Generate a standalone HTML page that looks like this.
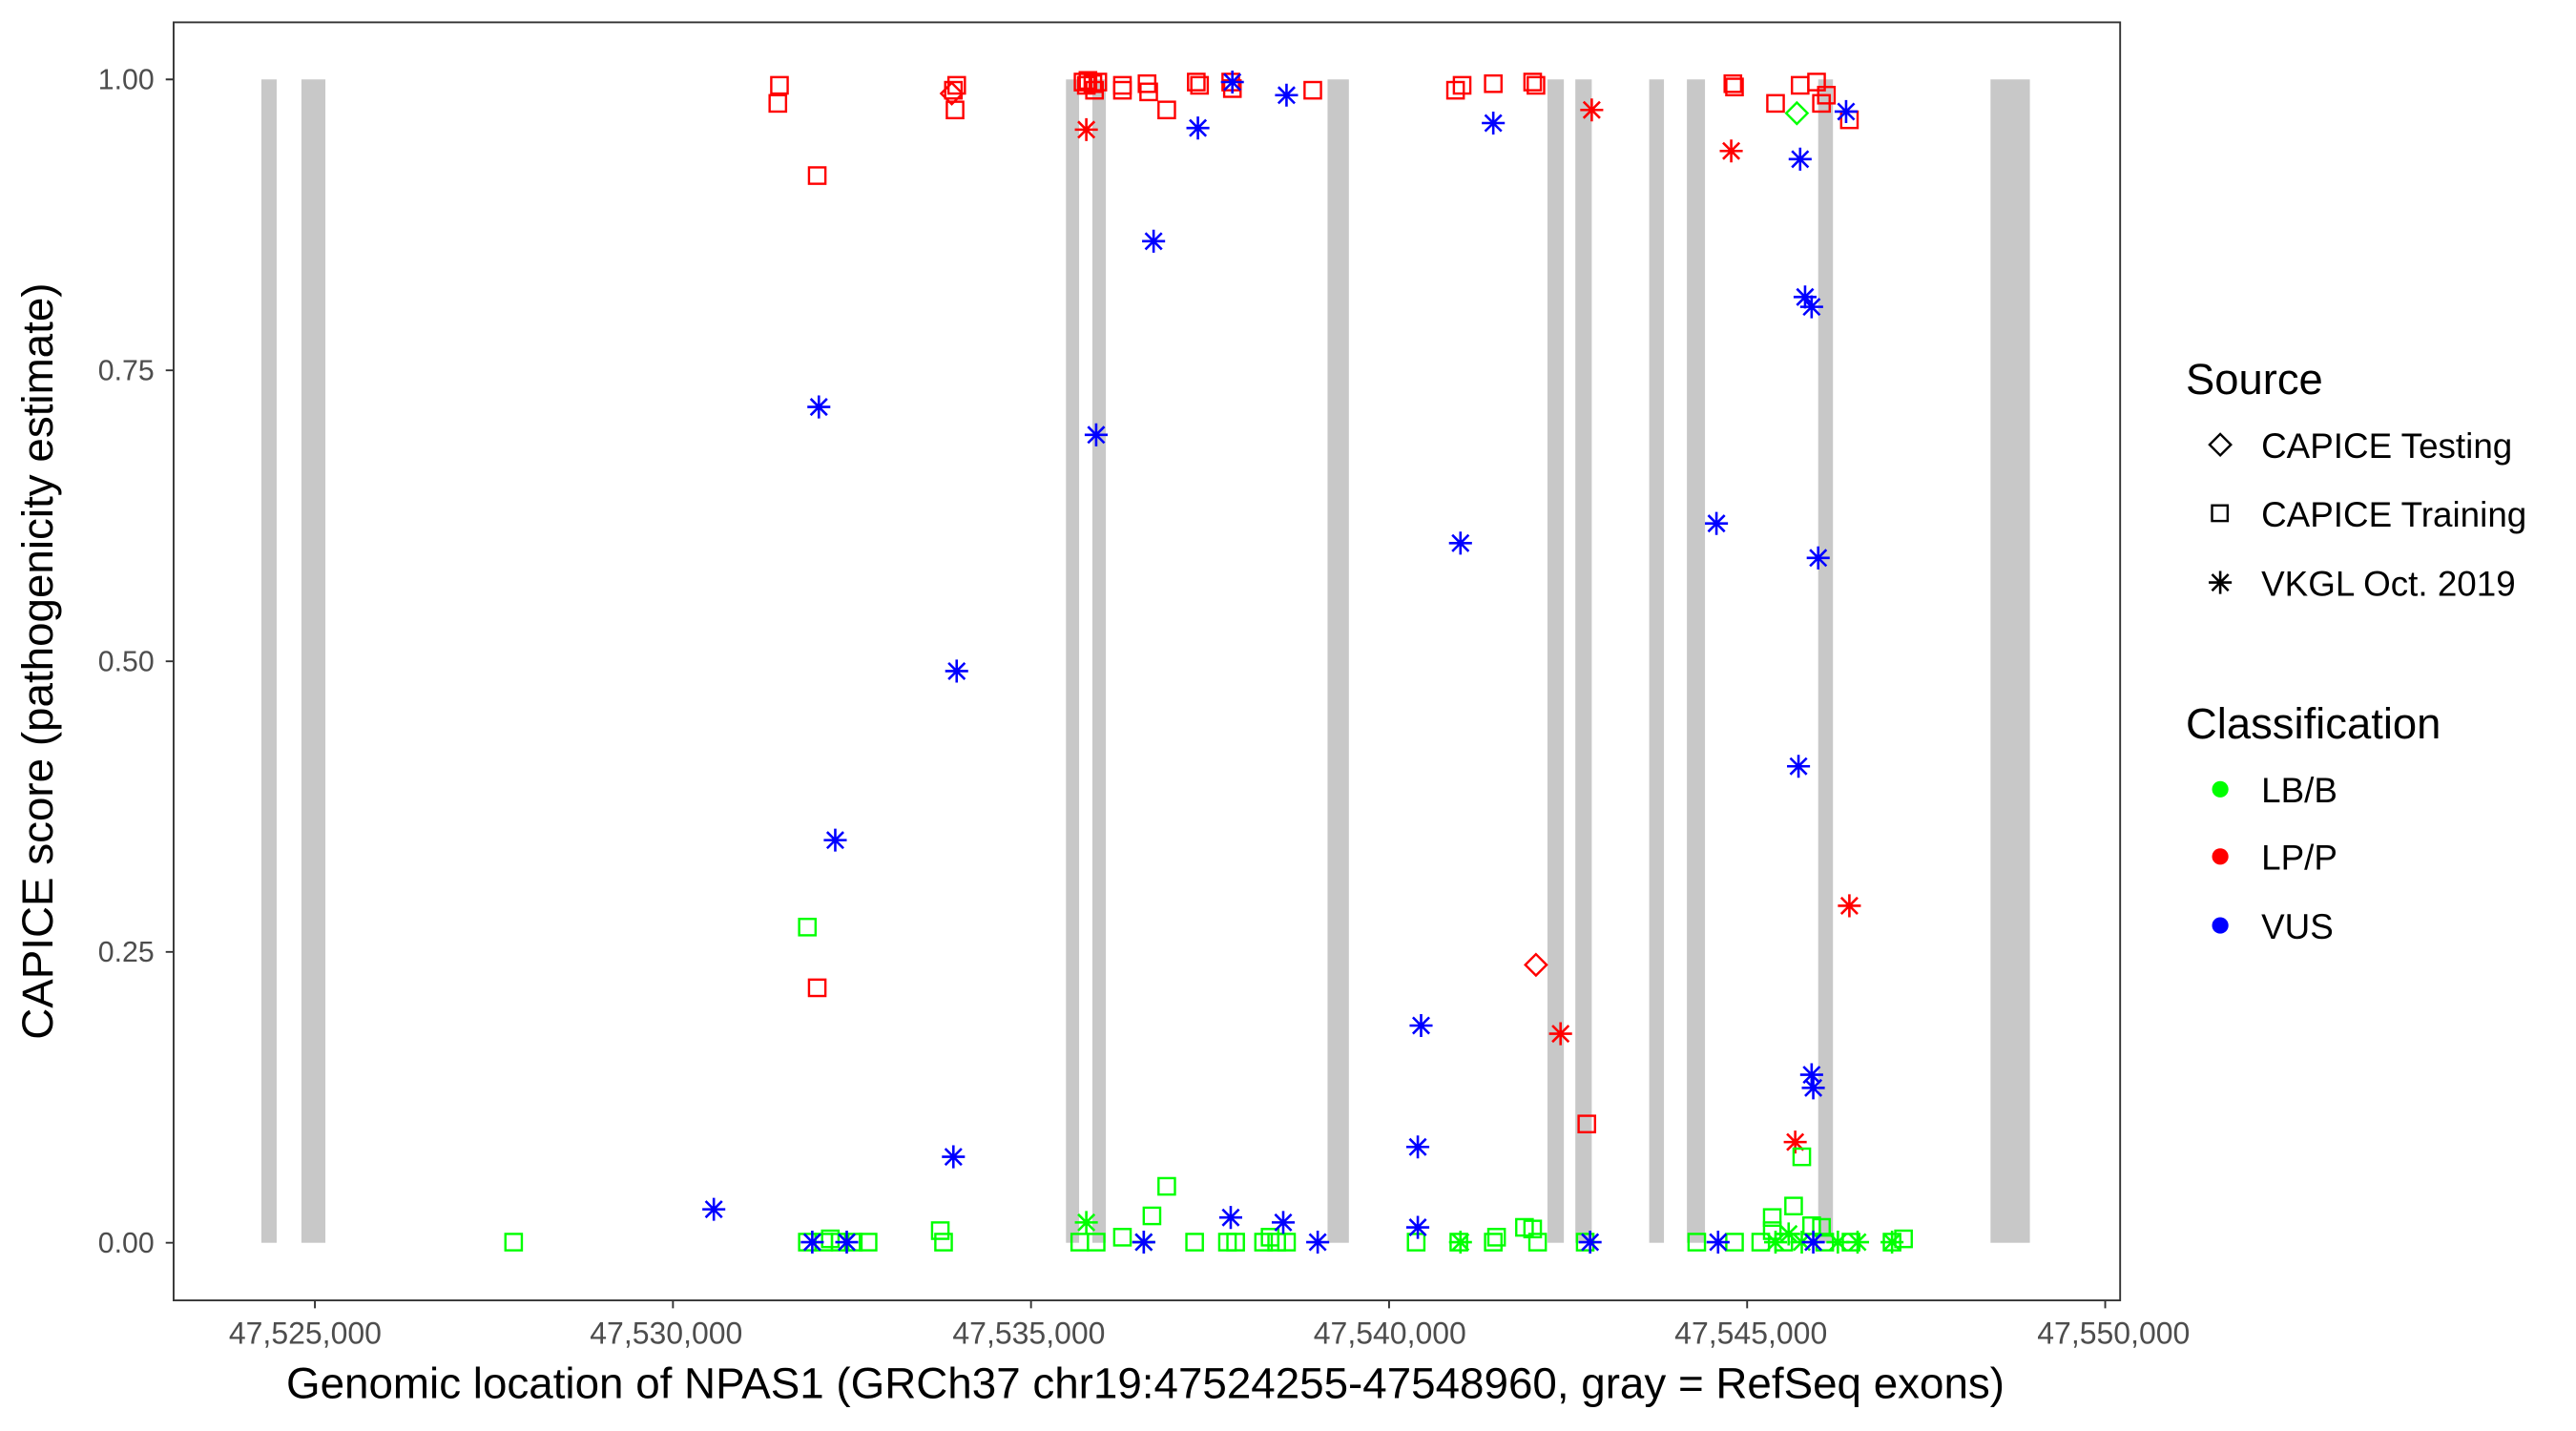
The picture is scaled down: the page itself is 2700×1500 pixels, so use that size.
<!DOCTYPE html>
<html><head><meta charset="utf-8"><style>html,body{margin:0;padding:0;background:#fff}svg{display:block}</style></head>
<body>
<svg width="2700" height="1500" viewBox="0 0 1569.8 872.1" xmlns="http://www.w3.org/2000/svg" font-family="Liberation Sans, Arial, sans-serif">
<defs>
<rect id="sq" x="-5" y="-5" width="10" height="10" fill="none" stroke-width="1.4"/>
<path id="as" d="M0,-7V7M-7,0H7M-5,-5L5,5M-5,5L5,-5" fill="none" stroke-width="1.5"/>
<path id="di" d="M0,-6.5L6.5,0L0,6.5L-6.5,0Z" fill="none" stroke-width="1.4"/>
</defs>
<rect width="1569.8" height="872.1" fill="#fff"/>
<g fill="#c8c8c8">
<rect x="159.3" y="48.4" width="9.3" height="709"/>
<rect x="183.7" y="48.4" width="14.6" height="709"/>
<rect x="649.6" y="48.4" width="8" height="709"/>
<rect x="665.7" y="48.4" width="8.2" height="709"/>
<rect x="809" y="48.4" width="13" height="709"/>
<rect x="943" y="48.4" width="10" height="709"/>
<rect x="960" y="48.4" width="10" height="709"/>
<rect x="1005" y="48.4" width="9" height="709"/>
<rect x="1028" y="48.4" width="11" height="709"/>
<rect x="1108" y="48.4" width="9" height="709"/>
<rect x="1213" y="48.4" width="24" height="709"/>
</g>
<g stroke="#ff0000">
<use href="#sq" x="475" y="52"/><use href="#sq" x="474" y="63"/><use href="#sq" x="498" y="107"/>
<use href="#sq" x="583" y="52"/><use href="#sq" x="582" y="67"/><use href="#sq" x="581" y="55"/>
<use href="#sq" x="660" y="50"/><use href="#sq" x="663" y="49"/><use href="#sq" x="666" y="51"/><use href="#sq" x="669" y="50"/><use href="#sq" x="662" y="52"/>
<use href="#sq" x="667" y="55"/><use href="#sq" x="684" y="52"/><use href="#sq" x="684" y="55"/>
<use href="#sq" x="699" y="51"/><use href="#sq" x="700" y="56"/><use href="#sq" x="711" y="67"/>
<use href="#sq" x="729" y="50"/><use href="#sq" x="731" y="52"/><use href="#sq" x="750" y="50"/><use href="#sq" x="751" y="54"/>
<use href="#sq" x="800" y="55"/><use href="#sq" x="887" y="55"/><use href="#sq" x="891" y="52"/><use href="#sq" x="910" y="51"/>
<use href="#sq" x="934" y="50"/><use href="#sq" x="936" y="52"/><use href="#sq" x="1056" y="51"/><use href="#sq" x="1057" y="53"/>
<use href="#sq" x="1082" y="63"/><use href="#sq" x="1097" y="52"/><use href="#sq" x="1107" y="50"/><use href="#sq" x="1110" y="63"/>
<use href="#sq" x="1113" y="58"/><use href="#sq" x="1127" y="73"/><use href="#sq" x="498" y="602"/><use href="#sq" x="967" y="685"/>
<use href="#di" x="580" y="57"/><use href="#di" x="936" y="588"/>
<use href="#as" x="662" y="79"/><use href="#as" x="970" y="67"/><use href="#as" x="1055" y="92"/><use href="#as" x="951" y="630"/><use href="#as" x="1094" y="696"/><use href="#as" x="1127" y="552"/>
</g>
<g stroke="#00ff00">
<use href="#di" x="1095" y="69"/>
<use href="#sq" x="313" y="757"/><use href="#sq" x="492" y="565"/><use href="#sq" x="492" y="757"/><use href="#sq" x="502" y="757"/><use href="#sq" x="506" y="755"/><use href="#sq" x="512" y="757"/><use href="#sq" x="520" y="757"/><use href="#sq" x="529" y="757"/>
<use href="#sq" x="573" y="750"/><use href="#sq" x="575" y="757"/><use href="#sq" x="658" y="757"/><use href="#sq" x="668" y="757"/><use href="#sq" x="684" y="754"/>
<use href="#sq" x="702" y="741"/><use href="#sq" x="711" y="723"/><use href="#sq" x="728" y="757"/><use href="#sq" x="748" y="757"/><use href="#sq" x="753" y="757"/>
<use href="#sq" x="770" y="757"/><use href="#sq" x="774" y="754"/><use href="#sq" x="778" y="757"/><use href="#sq" x="784" y="757"/><use href="#sq" x="863" y="757"/>
<use href="#sq" x="889" y="757"/><use href="#sq" x="910" y="757"/><use href="#sq" x="912" y="754"/><use href="#sq" x="929" y="748"/><use href="#sq" x="934" y="749"/>
<use href="#sq" x="937" y="757"/><use href="#sq" x="966" y="757"/><use href="#sq" x="1034" y="757"/><use href="#sq" x="1057" y="757"/><use href="#sq" x="1073" y="757"/>
<use href="#sq" x="1080" y="742"/><use href="#sq" x="1080" y="750"/><use href="#sq" x="1093" y="735"/><use href="#sq" x="1098" y="705"/><use href="#sq" x="1087" y="757"/>
<use href="#sq" x="1104" y="747"/><use href="#sq" x="1110" y="748"/><use href="#sq" x="1112" y="757"/><use href="#sq" x="1128" y="757"/><use href="#sq" x="1153" y="757"/><use href="#sq" x="1160" y="755"/>
<use href="#as" x="662" y="745"/><use href="#as" x="697" y="757"/><use href="#as" x="890" y="757"/><use href="#as" x="1090" y="752"/><use href="#as" x="1098" y="757"/>
<use href="#as" x="1120" y="757"/><use href="#as" x="1132" y="757"/><use href="#as" x="1153" y="757"/><use href="#as" x="1082" y="757"/>
</g>
<g stroke="#0000ff">
<use href="#as" x="751" y="50"/><use href="#as" x="784" y="58"/><use href="#as" x="730" y="78"/><use href="#as" x="910" y="75"/><use href="#as" x="703" y="147"/>
<use href="#as" x="1097" y="97"/><use href="#as" x="1125" y="68"/><use href="#as" x="1100" y="181"/><use href="#as" x="1104" y="187"/><use href="#as" x="499" y="248"/>
<use href="#as" x="668" y="265"/><use href="#as" x="890" y="331"/><use href="#as" x="1046" y="319"/><use href="#as" x="1108" y="340"/><use href="#as" x="583" y="409"/>
<use href="#as" x="1096" y="467"/><use href="#as" x="509" y="512"/><use href="#as" x="866" y="625"/><use href="#as" x="864" y="699"/><use href="#as" x="1104" y="655"/>
<use href="#as" x="1105" y="663"/><use href="#as" x="581" y="705"/><use href="#as" x="435" y="737"/><use href="#as" x="750" y="742"/><use href="#as" x="782" y="745"/>
<use href="#as" x="864" y="748"/><use href="#as" x="495" y="757"/><use href="#as" x="516" y="757"/><use href="#as" x="697" y="757"/><use href="#as" x="803" y="757"/>
<use href="#as" x="969" y="757"/><use href="#as" x="1047" y="757"/><use href="#as" x="1105" y="757"/>
</g>
<rect x="105.8" y="13.6" width="1186.2" height="778.9" fill="none" stroke="#333" stroke-width="1.1"/>
<g stroke="#333" stroke-width="1.1">
<path d="M101,48.4H105.8M101,225.7H105.8M101,403H105.8M101,580.1H105.8M101,757.4H105.8"/>
<path d="M191.9,792.5V797.3M410.1,792.5V797.3M628.3,792.5V797.3M846.5,792.5V797.3M1064.7,792.5V797.3M1282.9,792.5V797.3"/>
</g>
<g font-size="17.6" fill="#4d4d4d" text-anchor="end">
<text x="94" y="54.5">1.00</text><text x="94" y="231.8">0.75</text><text x="94" y="409.1">0.50</text><text x="94" y="586.2">0.25</text><text x="94" y="763.5">0.00</text>
</g>
<g font-size="18.6" fill="#4d4d4d" text-anchor="middle">
<text x="186" y="819">47,525,000</text><text x="406" y="819">47,530,000</text><text x="627" y="819">47,535,000</text>
<text x="847" y="819">47,540,000</text><text x="1067" y="819">47,545,000</text><text x="1288" y="819">47,550,000</text>
</g>
<text x="698" y="852" font-size="26.6" text-anchor="middle" fill="#000">Genomic location of NPAS1 (GRCh37 chr19:47524255-47548960, gray = RefSeq exons)</text>
<text transform="translate(32,403) rotate(-90)" font-size="26.6" text-anchor="middle" fill="#000">CAPICE score (pathogenicity estimate)</text>
<text x="1332" y="240" font-size="26.4" fill="#000">Source</text>
<g stroke="#000"><use href="#di" x="1353" y="271"/><rect x="1348" y="308" width="9.5" height="9.5" fill="none" stroke-width="1.4"/><use href="#as" x="1353" y="355"/></g>
<g font-size="21.4" fill="#000"><text x="1378" y="279">CAPICE Testing</text><text x="1378" y="321">CAPICE Training</text><text x="1378" y="363">VKGL Oct. 2019</text></g>
<text x="1332" y="450" font-size="26.4" fill="#000">Classification</text>
<circle cx="1353" cy="481" r="5" fill="#00ff00"/><circle cx="1353" cy="522" r="5" fill="#ff0000"/><circle cx="1353" cy="564" r="5" fill="#0000ff"/>
<g font-size="21.4" fill="#000"><text x="1378" y="489">LB/B</text><text x="1378" y="530">LP/P</text><text x="1378" y="572">VUS</text></g>
</svg>
</body></html>
